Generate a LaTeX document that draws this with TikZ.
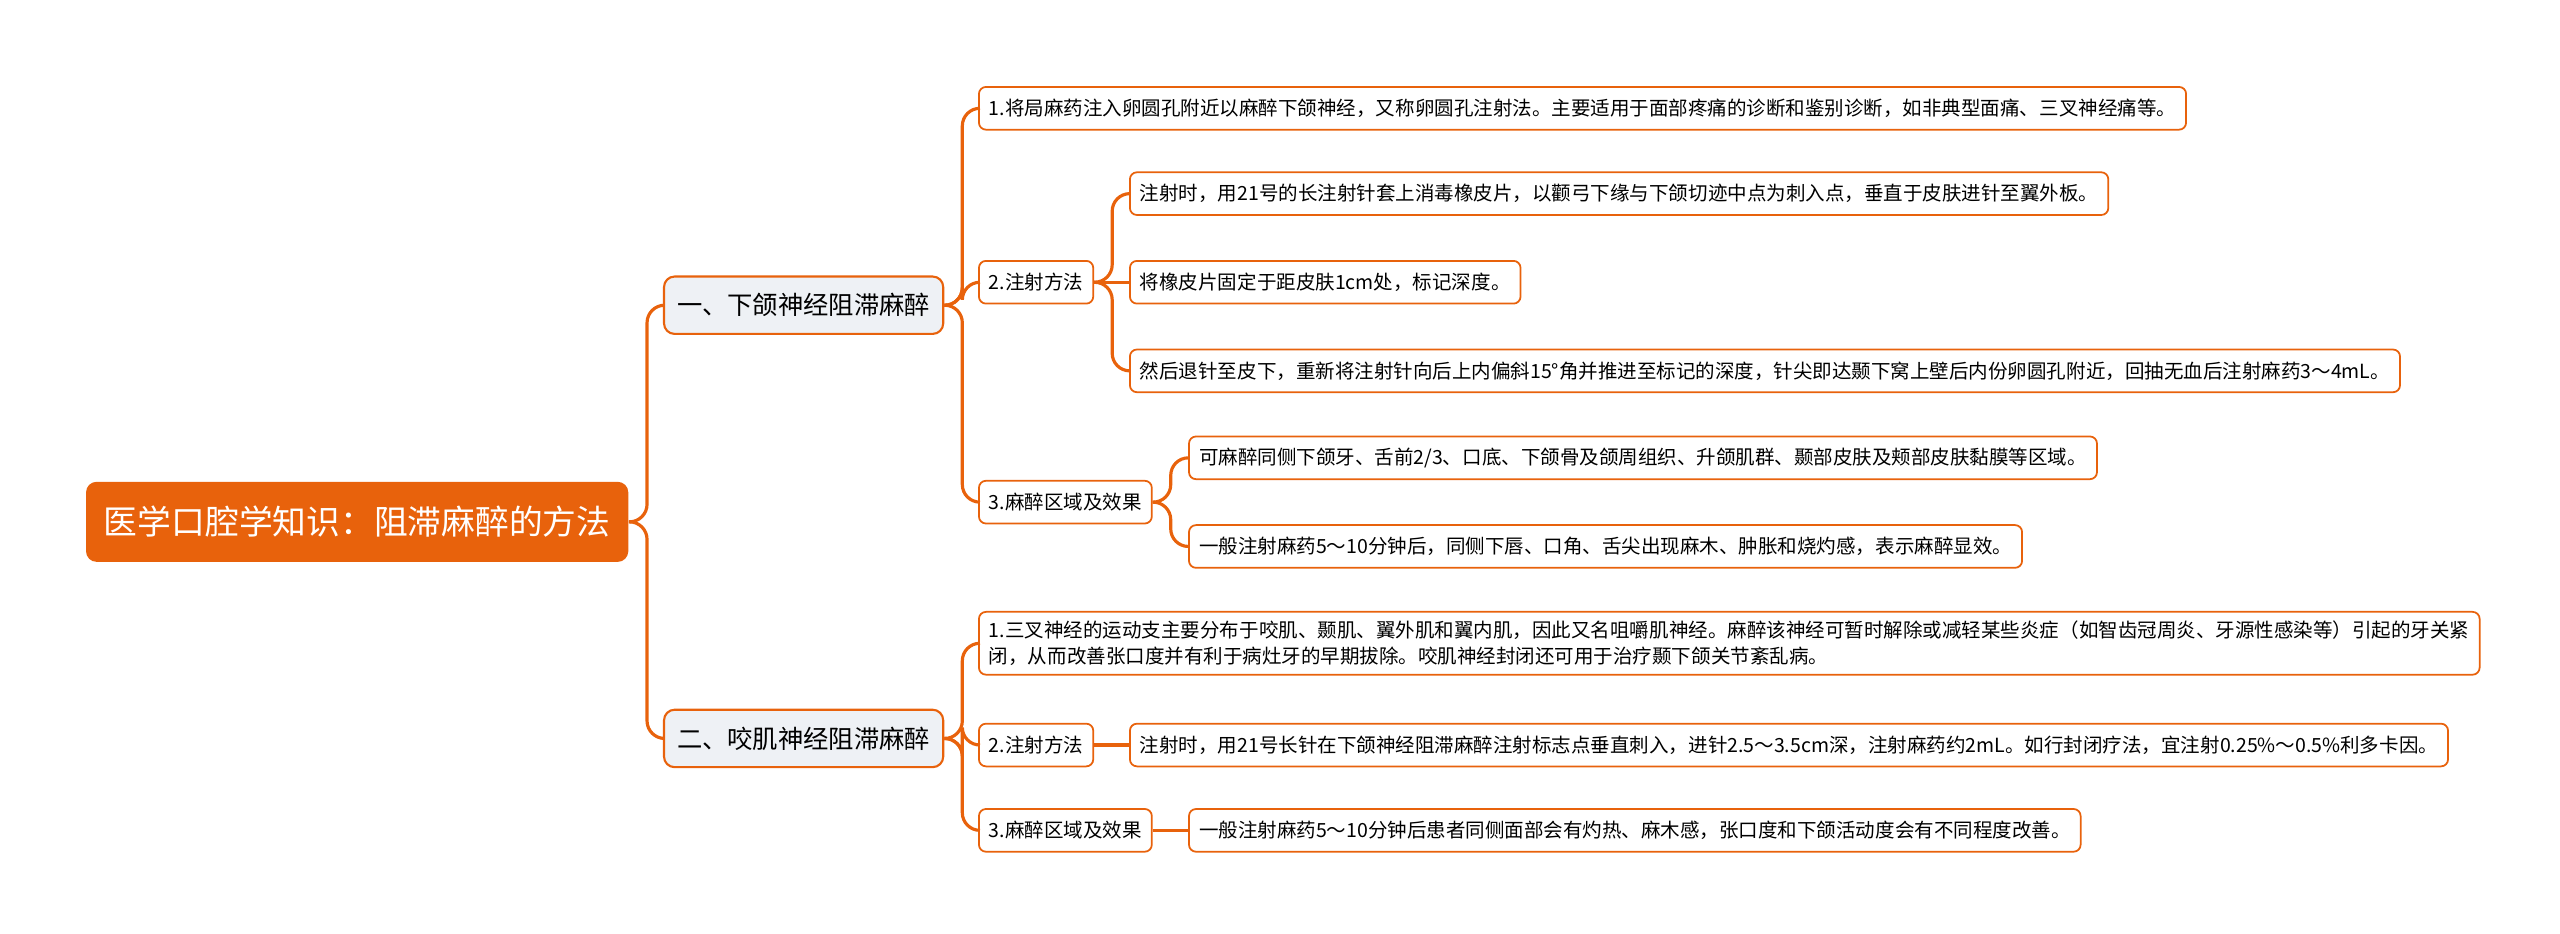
\documentclass[tikz,border=0pt]{standalone}
\usepackage{fontspec}
\setmainfont{Noto Sans CJK SC}
\XeTeXlinebreaklocale "zh"
\XeTeXlinebreakskip=0pt plus 1pt
\definecolor{mapline}{HTML}{E8620C}
\definecolor{mainfill}{HTML}{EEF1F5}
\tikzset{
  >=latex,
  leafbox/.style={draw=mapline,line width=0.5pt,fill=white,rounded corners=2pt,anchor=west,
    inner xsep=0.1cm,inner ysep=0pt,minimum height=0.427cm,font=\fontsize{5.55}{7.4}\selectfont},
  mainbox/.style={draw=mapline,line width=0.6pt,fill=mainfill,rounded corners=3pt,anchor=west,
    inner xsep=0.13cm,inner ysep=0pt,minimum height=0.574cm,minimum width=2.79cm,font=\fontsize{7.2}{9}\selectfont},
  rootbox/.style={fill=mapline,text=white,rounded corners=3pt,anchor=west,
    inner ysep=0pt,minimum height=0.8cm,minimum width=5.42cm,font=\fontsize{9.6}{12}\selectfont},
  link/.style={draw=mapline,line width=0.9pt,rounded corners=5pt}
}
\begin{document}
\begin{tikzpicture}[x=0.01641cm,y=-0.01641cm]
	\useasboundingbox (0,0) rectangle (1560,569);
	%% nodes
	\node[rootbox] (root) at (52,318) {医学口腔学知识：阻滞麻醉的方法};
	\node[mainbox] (m1) at (404,186) {一、下颌神经阻滞麻醉};
	\node[mainbox] (m2) at (404,450) {二、咬肌神经阻滞麻醉};

	\node[leafbox] (a1) at (596,66) {1.将局麻药注入卵圆孔附近以麻醉下颌神经，又称卵圆孔注射法。主要适用于面部疼痛的诊断和鉴别诊断，如非典型面痛、三叉神经痛等。};
	\node[leafbox] (a2) at (596,172) {2.注射方法};
	\node[leafbox] (a3) at (596,306) {3.麻醉区域及效果};
	\node[leafbox] (a21) at (688,118) {注射时，用21号的长注射针套上消毒橡皮片，以颧弓下缘与下颌切迹中点为刺入点，垂直于皮肤进针至翼外板。};
	\node[leafbox] (a22) at (688,172) {将橡皮片固定于距皮肤1cm处，标记深度。};
	\node[leafbox] (a23) at (688,226) {然后退针至皮下，重新将注射针向后上内偏斜15°角并推进至标记的深度，针尖即达颞下窝上壁后内份卵圆孔附近，回抽无血后注射麻药3～4mL。};
	\node[leafbox] (a31) at (724,279) {可麻醉同侧下颌牙、舌前2/3、口底、下颌骨及颌周组织、升颌肌群、颞部皮肤及颊部皮肤黏膜等区域。};
	\node[leafbox] (a32) at (724,333) {一般注射麻药5～10分钟后，同侧下唇、口角、舌尖出现麻木、肿胀和烧灼感，表示麻醉显效。};

	\node[leafbox,text width=14.8cm,align=left,inner ysep=0.09cm] (b1) at (596,392) {1.三叉神经的运动支主要分布于咬肌、颞肌、翼外肌和翼内肌，因此又名咀嚼肌神经。麻醉该神经可暂时解除或减轻某些炎症（如智齿冠周炎、牙源性感染等）引起的牙关紧闭，从而改善张口度并有利于病灶牙的早期拔除。咬肌神经封闭还可用于治疗颞下颌关节紊乱病。};
	\node[leafbox] (b2) at (596,454) {2.注射方法};
	\node[leafbox] (b3) at (596,506) {3.麻醉区域及效果};
	\node[leafbox] (b21) at (688,454) {注射时，用21号长针在下颌神经阻滞麻醉注射标志点垂直刺入，进针2.5～3.5cm深，注射麻药约2mL。如行封闭疗法，宜注射0.25\%～0.5\%利多卡因。};
	\node[leafbox] (b31) at (724,506) {一般注射麻药5～10分钟后患者同侧面部会有灼热、麻木感，张口度和下颌活动度会有不同程度改善。};

	%% connectors
	\foreach \p/\c in {root/m1,root/m2,m1/a1,m1/a2,m1/a3,a2/a21,a2/a23,a3/a31,a3/a32,
	                   m2/b1,m2/b2,m2/b3}
	  \draw[link] (\p.east) -- ++(11,0) |- (\c.west);
	% straight ones
	\foreach \p/\c in {a2/a22,b2/b21,b3/b31}
	  \draw[link] (\p.east) -- (\c.west);
\end{tikzpicture}
\end{document}
